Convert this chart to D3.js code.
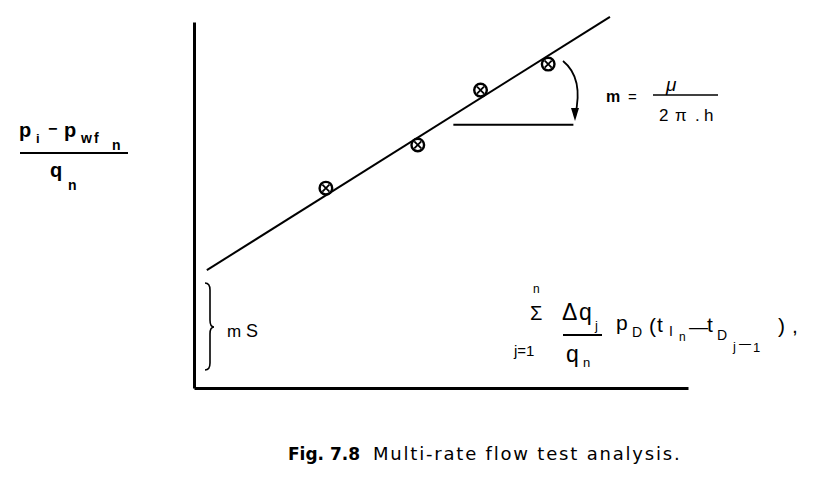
<!DOCTYPE html>
<html><head><meta charset="utf-8">
<script src="https://cdn.jsdelivr.net/npm/d3@7"></script>
<style>
body{margin:0;background:#fff}
svg{display:block}
text{font-family:"Liberation Sans",Arial,sans-serif;fill:#000}
</style>
</head><body>
<svg id="c" width="817" height="489"></svg>
<script>
// data (arbitrary units)
const pointX = [2.67, 4.53, 5.80, 7.17];
const pointY = [5.46, 6.64, 8.14, 8.85];
const fitX = [0.26, 8.42];
const fitY = [3.22, 10.14];
const angleX = [5.25, 7.68];
const angleY = 7.19;
const xDomain = [0, 10];
const yDomain = [0, 10];
const captionFig = "Fig. 7.8";
const captionText = "Multi-rate flow test analysis.";

const svg = d3.select("#c");
const x = d3.scaleLinear().domain(xDomain).range([194, 688]);
const y = d3.scaleLinear().domain(yDomain).range([388, 22]);

// axes
svg.append("g").attr("transform", `translate(0,${y(0)})`)
  .call(d3.axisBottom(x).ticks(0).tickSizeOuter(0));
svg.append("g").attr("transform", `translate(${x(0)},0)`)
  .call(d3.axisLeft(y).ticks(0).tickSizeOuter(0));
svg.selectAll(".domain").attr("stroke", "#000").attr("stroke-width", 3);

// fit line
svg.append("line")
  .attr("x1", x(fitX[0])).attr("y1", y(fitY[0]))
  .attr("x2", x(fitX[1])).attr("y2", y(fitY[1]))
  .attr("stroke", "#000").attr("stroke-width", 2);

// points (circled cross)
const pts = svg.selectAll(".pt").data(pointX.map((v, i) => [v, pointY[i]]))
  .enter().append("g").attr("class", "pt")
  .attr("transform", d => `translate(${x(d[0])},${y(d[1])})`);
pts.append("circle").attr("r", 6.3).attr("fill", "#fff")
  .attr("stroke", "#000").attr("stroke-width", 2.4);
pts.append("path").attr("d", "M-3.5,-3.5L3.5,3.5M3.5,-3.5L-3.5,3.5")
  .attr("stroke", "#000").attr("stroke-width", 1.8);

// angle annotation
svg.append("line")
  .attr("x1", x(angleX[0])).attr("x2", x(angleX[1]))
  .attr("y1", y(angleY)).attr("y2", y(angleY))
  .attr("stroke", "#000").attr("stroke-width", 2);
svg.append("path")
  .attr("d", "M563,61 Q584,78 575,116")
  .attr("fill", "none").attr("stroke", "#000").attr("stroke-width", 1.8);
svg.append("path").attr("d", "M571,108 L575,121 L579,108 Z").attr("fill", "#000");

function t(txt, px, py, size, opts = {}) {
  const e = svg.append("text").attr("x", px).attr("y", py)
    .attr("font-size", size).text(txt);
  if (opts.bold) e.attr("font-weight", "bold");
  if (opts.italic) e.attr("font-style", "italic");
  if (opts.ls) e.attr("letter-spacing", opts.ls);
  if (opts.anchor) e.attr("text-anchor", opts.anchor);
  if (opts.family) e.style("font-family", opts.family);
  return e;
}

// y-axis label fraction
t("p", 19, 137, 20, {bold: true});
t("i", 36, 143, 13, {bold: true});
t("−", 48, 134, 16, {bold: true});
t("p", 64, 137, 20, {bold: true});
t("wf", 81, 143, 14, {bold: true, ls: 2});
t("n", 112, 150, 14, {bold: true});
svg.append("line").attr("x1", 20).attr("x2", 128).attr("y1", 153).attr("y2", 153)
  .attr("stroke", "#000").attr("stroke-width", 2);
t("q", 50, 177, 20, {bold: true});
t("n", 68, 190, 14, {bold: true});

// m = mu / 2 pi h
t("m", 606, 102, 16, {bold: true});
t("=", 628, 102, 15);
svg.append("line").attr("x1", 653).attr("x2", 718).attr("y1", 95).attr("y2", 95)
  .attr("stroke", "#000").attr("stroke-width", 1.6);
t("μ", 666, 91, 19, {italic: true});
t("2", 659, 121, 17);
t("π", 675, 121, 17);
t(".", 695, 121, 17);
t("h", 704, 121, 17);

// mS brace
svg.append("path")
  .attr("d", "M205,283 Q210,283 210,290 L210,320 Q210,327 214,327 Q210,327 210,334 L210,363 Q210,370 205,370")
  .attr("fill", "none").attr("stroke", "#000").attr("stroke-width", 1.6);
t("m", 227, 337, 17);
t("S", 246, 337, 18);

// summation formula
t("n", 533, 293, 12);
t("Σ", 530, 320, 20);
t("j=1", 514, 356, 15);
t("Δ", 562, 320, 23);
t("q", 579, 320, 23);
t("j", 595, 330, 13);
svg.append("line").attr("x1", 563).attr("x2", 602).attr("y1", 335).attr("y2", 335)
  .attr("stroke", "#000").attr("stroke-width", 1.8);
t("q", 566, 362, 23);
t("n", 583, 367, 13);
t("p", 616, 330, 21);
t("D", 632, 337, 14);
t("(", 649, 333, 21);
t("t", 657, 332, 21);
t("I", 669, 336, 14);
t("n", 679, 341, 12);
t("—", 689, 333, 19);
t("t", 707, 332, 21);
t("D", 717, 340, 14);
t("j", 733, 351, 13);
t("—", 739, 348, 12);
t("1", 753, 352, 13);
t(")", 778, 333, 21);
t(",", 792, 333, 21);

// caption
t(captionFig, 288, 460, 17, {bold: true, family: "'DejaVu Sans', sans-serif"});
t(captionText, 373, 460, 18, {ls: 1.8, family: "'DejaVu Sans', sans-serif"});
</script>
</body></html>
